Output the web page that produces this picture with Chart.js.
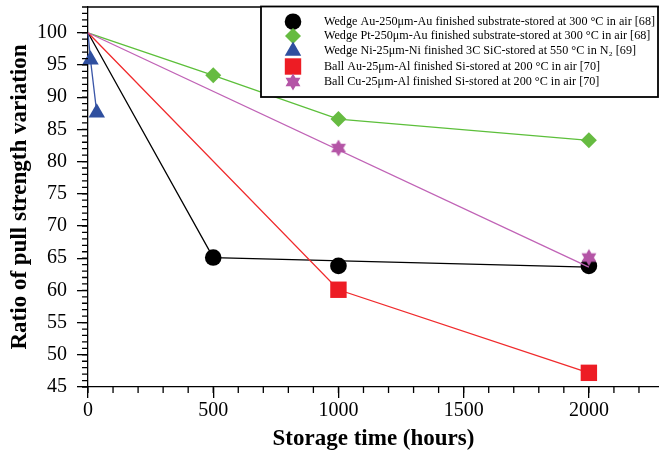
<!DOCTYPE html>
<html><head><meta charset="utf-8">
<script src="https://cdn.jsdelivr.net/npm/chart.js@4/dist/chart.umd.min.js"></script>
<style>html,body{margin:0;padding:0;background:#fff}canvas{display:block}</style>
</head><body>
<canvas id="c" width="659" height="453"></canvas>
<script>
// ---- data ----
const seriesLabels = [
  'Wedge Au-250\u03bcm-Au finished substrate-stored at 300 \u00b0C in air [68]',
  'Wedge Pt-250\u03bcm-Au finished substrate-stored at 300 \u00b0C in air [68]',
  'Wedge Ni-25\u03bcm-Ni finished 3C SiC-stored at 550 \u00b0C in N\u2082 [69]',
  'Ball Au-25\u03bcm-Al finished Si-stored at 200 \u00b0C in air [70]',
  'Ball Cu-25\u03bcm-Al finished Si-stored at 200 \u00b0C in air [70]'
];
// measured points (markers)
const auAuHours = [500, 1000, 2000];
const auAuRatio = [65.1, 63.8, 63.8];
const ptAuHours = [500, 1000, 2000];
const ptAuRatio = [93.4, 86.6, 83.3];
const niNiHours = [10, 35];
const niNiRatio = [95.8, 87.6];
const auAlHours = [1000, 2000];
const auAlRatio = [60.1, 47.2];
const cuAlHours = [1000, 2000];
const cuAlRatio = [82.1, 65.1];
// trend lines
const auAuLineHours = [0, 500, 2000];
const auAuLineRatio = [100, 65.1, 63.6];
const ptAuLineHours = [0, 500, 1000, 2000];
const ptAuLineRatio = [100, 93.4, 86.6, 83.3];
const niNiLineHours = [0, 10, 35];
const niNiLineRatio = [100, 95.8, 87.6];
const auAlLineHours = [0, 1000, 2000];
const auAlLineRatio = [100, 60.1, 47.2];
const cuAlLineHours = [0, 2000];
const cuAlLineRatio = [100, 63.6];
// axes
const xTickValues = [0, 500, 1000, 1500, 2000];
const yTickValues = [45, 50, 55, 60, 65, 70, 75, 80, 85, 90, 95, 100];
const xMin = 0, xMax = 2280, xMinorStep = 100;
const yMin = 45, yMax = 104, yMinorStep = 1;

// ---- styles ----
const SERIF = '"Liberation Serif", "Times New Roman", serif';
const markerColors = ['#000000', '#66bb41', '#2f4f9f', '#ed1c24', '#b455a6'];
const lineColors = ['#000000', '#5cbf3a', '#3a56a8', '#f02a2c', '#c063b6'];

function makeStar(r, color) {
  const s = Math.ceil(r * 2 + 2);
  const c = document.createElement('canvas');
  c.width = s; c.height = s;
  const g = c.getContext('2d');
  g.fillStyle = color;
  g.beginPath();
  for (let i = 0; i < 12; i++) {
    const a = -Math.PI / 2 + i * Math.PI / 6;
    const rr = i % 2 === 0 ? r : r / Math.sqrt(3);
    g.lineTo(s / 2 + rr * Math.cos(a), s / 2 + rr * Math.sin(a));
  }
  g.closePath(); g.fill();
  return c;
}
const starImg = makeStar(8.6, markerColors[4]);

const markerStyles = [
  { pointStyle: 'circle', radius: 8.3 },
  { pointStyle: 'rectRot', radius: 8 },
  { pointStyle: 'triangle', radius: 9.5 },
  { pointStyle: 'rect', radius: 11.6 },
  { pointStyle: starImg, radius: 9 }
];

const pts = (xs, ys) => xs.map((x, i) => ({ x, y: ys[i] }));
const markerSets = [
  pts(auAuHours, auAuRatio), pts(ptAuHours, ptAuRatio), pts(niNiHours, niNiRatio),
  pts(auAlHours, auAlRatio), pts(cuAlHours, cuAlRatio)
];
const lineSets = [
  pts(auAuLineHours, auAuLineRatio), pts(ptAuLineHours, ptAuLineRatio), pts(niNiLineHours, niNiLineRatio),
  pts(auAlLineHours, auAlLineRatio), pts(cuAlLineHours, cuAlLineRatio)
];

// first dataset is drawn on top -> list series in reverse order, markers before line
const datasets = [];
for (let i = 4; i >= 0; i--) {
  datasets.push({
    label: seriesLabels[i], data: markerSets[i], showLine: false,
    pointStyle: markerStyles[i].pointStyle, pointRadius: markerStyles[i].radius,
    pointBackgroundColor: markerColors[i], pointBorderWidth: 0, pointHoverRadius: markerStyles[i].radius,
    clip: false
  });
  datasets.push({
    label: seriesLabels[i] + ' line', data: lineSets[i], showLine: true,
    borderColor: lineColors[i], borderWidth: 1.3, pointRadius: 0, pointHoverRadius: 0, tension: 0,
    clip: false
  });
}

const minorTicksPlugin = {
  id: 'minorTicks',
  afterDraw(chart) {
    const { ctx, scales: { x, y }, chartArea: a } = chart;
    ctx.save();
    ctx.strokeStyle = '#000';
    ctx.lineWidth = 1.3;
    ctx.beginPath();
    for (let v = yMin; v <= yMax + 1e-9; v += yMinorStep) {
      const py = y.getPixelForValue(v);
      ctx.moveTo(a.left - 6, py); ctx.lineTo(a.left, py);
    }
    for (let v = xMin; v <= xMax + 1e-9; v += xMinorStep) {
      const px = x.getPixelForValue(v);
      ctx.moveTo(px, a.bottom); ctx.lineTo(px, a.bottom + 6);
    }
    ctx.moveTo(a.left, a.top); ctx.lineTo(a.right, a.top);
    ctx.stroke();
    ctx.restore();
  }
};

const legendPlugin = {
  id: 'boxLegend',
  afterDraw(chart) {
    const ctx = chart.ctx;
    ctx.save();
    ctx.fillStyle = '#fff';
    ctx.fillRect(261, 6.5, 397, 90.5);
    ctx.strokeStyle = '#000';
    ctx.lineWidth = 1.8;
    ctx.strokeRect(261, 6.5, 397, 90.5);
    const rowY = [21.7, 36, 51, 66.5, 82];
    ctx.textBaseline = 'middle';
    ctx.textAlign = 'left';
    for (let i = 0; i < 5; i++) {
      ctx.fillStyle = markerColors[i];
      ctx.strokeStyle = markerColors[i];
      Chart.helpers.drawPoint(ctx, {
        pointStyle: markerStyles[i].pointStyle, radius: markerStyles[i].radius,
        rotation: 0, borderWidth: 0
      }, 293, rowY[i]);
      ctx.fillStyle = '#000';
      ctx.font = '12.15px ' + SERIF;
      ctx.fillText(seriesLabels[i], 324, rowY[i]);
    }
    ctx.restore();
  }
};

new Chart(document.getElementById('c'), {
  type: 'scatter',
  data: { datasets },
  options: {
    responsive: false, animation: false, devicePixelRatio: 1,
    layout: { autoPadding: false, padding: { top: 7, right: 0, left: 0, bottom: 0 } },
    plugins: { legend: { display: false }, tooltip: { enabled: false } },
    events: [],
    scales: {
      x: {
        type: 'linear', position: 'bottom', min: xMin, max: xMax,
        afterBuildTicks: s => { s.ticks = xTickValues.map(v => ({ value: v })); },
        afterFit: s => { s.height = 66; s.paddingLeft = 0; s.paddingRight = 0; },
        ticks: { color: '#000', font: { family: SERIF, size: 20 }, padding: 1, maxRotation: 0, autoSkip: false,
          callback: v => String(v) },
        grid: { drawOnChartArea: false, drawTicks: true, tickLength: 11, color: '#000', lineWidth: 1.3 },
        border: { color: '#000', width: 1.3 },
        title: { display: true, text: 'Storage time (hours)', color: '#000',
          font: { family: SERIF, size: 23, weight: 'bold' }, padding: { top: 0, bottom: 0 } }
      },
      y: {
        type: 'linear', position: 'left', min: yMin, max: yMax,
        afterBuildTicks: s => { s.ticks = yTickValues.map(v => ({ value: v })); },
        afterFit: s => { s.width = 88; s.paddingTop = 0; s.paddingBottom = 0; },
        ticks: { color: '#000', font: { family: SERIF, size: 20 }, padding: 10, autoSkip: false,
          callback: v => String(v) },
        grid: { drawOnChartArea: false, drawTicks: true, tickLength: 11, color: '#000', lineWidth: 1.3 },
        border: { color: '#000', width: 1.3 },
        title: { display: true, text: 'Ratio of pull strength variation', color: '#000',
          font: { family: SERIF, size: 23, weight: 'bold' }, padding: { top: 6, bottom: 0 } }
      }
    }
  },
  plugins: [minorTicksPlugin, legendPlugin]
});
</script>
</body></html>
